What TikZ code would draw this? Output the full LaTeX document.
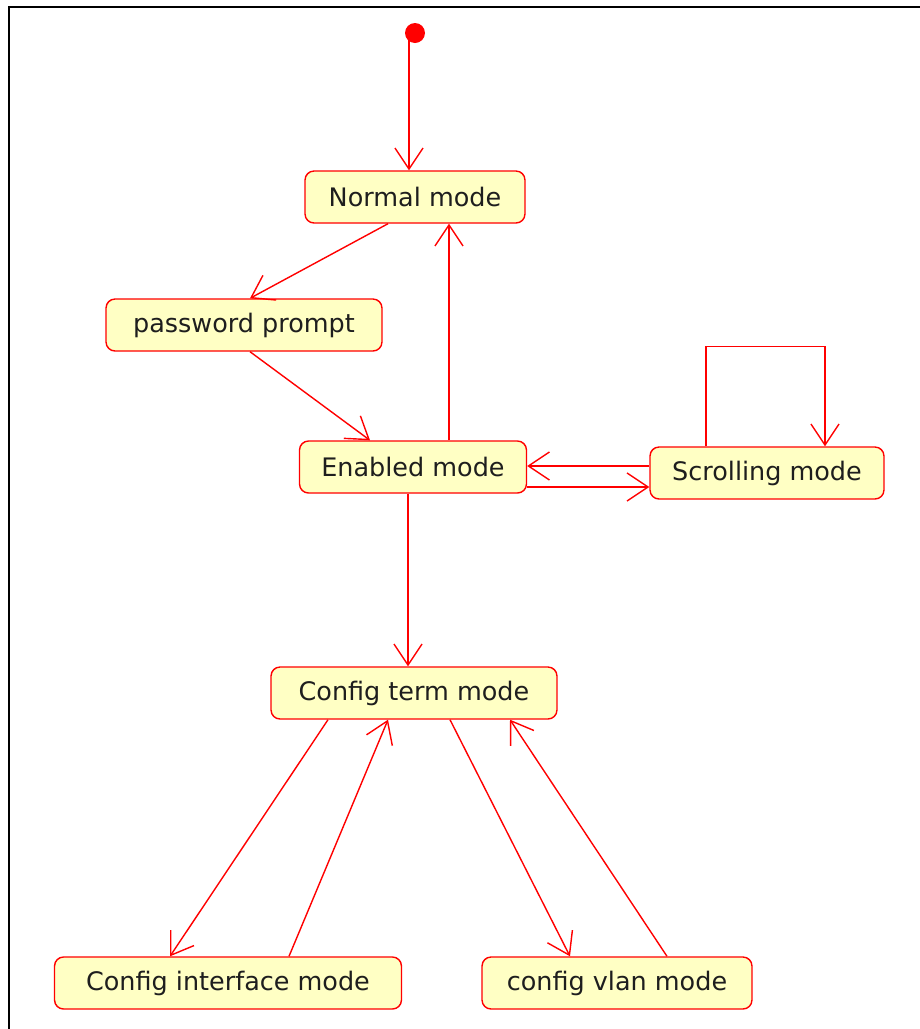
\documentclass[tikz,border=0pt]{standalone}
\usepackage{fontspec}
\setmainfont{DejaVu Sans}
\usetikzlibrary{calc,arrows.meta}
\definecolor{statefill}{RGB}{255,255,196}
\definecolor{statetext}{RGB}{30,30,30}

\begin{document}
\begin{tikzpicture}[x=0.02cm, y=-0.02cm,
		state/.style={draw=red, fill=statefill, line width=0.8pt, rounded corners=1.8mm,
			minimum height=1.04cm, inner sep=0pt, text=statetext,
			font=\fontsize{14.5}{17}\selectfont},
		trans/.style={draw=red, line width=0.8pt, -{Straight Barb[length=4.2mm,width=5.6mm]}}]
		%%%%% START %%%%%
		\useasboundingbox (0, 0) rectangle (920, 1029);
		\draw[line width=0.45mm] (9, 1029) -- (9, 7) -- (920, 7);
		
		\node[circle, fill=red, inner sep=0pt, minimum size=0.4cm] (init) at (415, 33) {};
		\node[state, minimum width=4.4cm] (normal) at (415, 197) {Normal mode};
		\node[state, minimum width=5.52cm] (password) at (244, 325) {password prompt};
		\node[state, minimum width=4.54cm] (enabled) at (413, 467) {Enabled mode};
		\node[state, minimum width=4.68cm] (scrolling) at (767, 473) {Scrolling mode};
		\node[state, minimum width=5.72cm] (term) at (414, 693) {Config term mode};
		\node[state, minimum width=6.94cm] (iface) at (228, 983) {Config interface mode};
		\node[state, minimum width=5.4cm] (vlan) at (617, 983) {config vlan mode};
		
		\draw[trans] ($(init)+(-6, 0)$) -- ($(normal.north)+(-6, 0)$);
		\draw[trans] ($(normal.south)+(-27, 0)$) -- ($(password.north)+(6, 0)$);
		\draw[trans] ($(password.south)+(6, 0)$) -- ($(enabled.north)+(-43, 0)$);
		\draw[trans] ($(enabled.north)+(36, 0)$) -- ($(normal.south)+(34, 0)$);
		
		\draw[trans] ($(scrolling.west)+(0, -7)$) coordinate (back) -- (back -| enabled.east);
		\draw[trans] ($(enabled.east)+(0, 20)$) coordinate (fwd) -- (fwd -| scrolling.west);
		\draw[trans] ($(scrolling.north)+(-61, 0)$) -- ++(0, -100) -- ++(119, 0) -- ($(scrolling.north)+(58, 0)$);
		
		\draw[trans] ($(enabled.south)+(-5, 0)$) -- ($(term.north)+(-6, 0)$);
		\draw[trans] ($(term.south)+(-86, 0)$) -- ($(iface.north)+(-58, 0)$);
		\draw[trans] ($(iface.north)+(61, 0)$) -- ($(term.south)+(-26, 0)$);
		\draw[trans] ($(term.south)+(36, 0)$) -- ($(vlan.north)+(-47, 0)$);
		\draw[trans] ($(vlan.north)+(50, 0)$) -- ($(term.south)+(96, 0)$);
		%%%%% END %%%%%
\end{tikzpicture}
\end{document}
